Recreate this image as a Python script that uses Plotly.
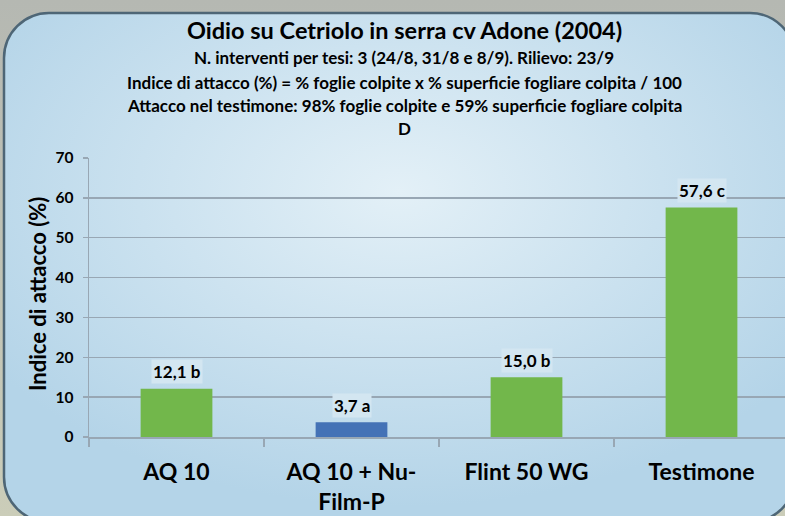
import base64
import plotly.graph_objects as go

# ---- data ----
categories = ["AQ 10", "AQ 10 + Nu-<br>Film-P", "Flint 50 WG", "Testimone"]
values = [12.1, 3.7, 15.0, 57.6]
letters = ["b", "a", "b", "c"]
bar_colors = ["#72b74b", "#4472b6", "#72b74b", "#72b74b"]
y_tick_vals = [0, 10, 20, 30, 40, 50, 60, 70]

title_text = "Oidio su Cetriolo in serra cv Adone (2004)"
subtitle_lines = [
    "N. interventi per tesi: 3 (24/8, 31/8 e 8/9). Rilievo: 23/9",
    "Indice di attacco (%) = % foglie colpite x % superficie fogliare colpita / 100",
    "Attacco nel testimone: 98% foglie colpite e 59% superficie fogliare colpita",
    "D",
]
y_title = "Indice di attacco (%)"

labels = [f"{v:.1f}".replace(".", ",") + " " + l for v, l in zip(values, letters)]

# ---- geometry (pixels) ----
W, H = 785, 516
ML, MR, MT, MB = 89, 0, 158, 79
PW, PH = W - ML - MR, H - MT - MB

def px_x(p):
    return (p - ML) / PW

def px_y(p):
    return (H - MB - p) / PH

FONT = "Lato"

# background: textured-looking outside + rounded gradient box
svg = f'''<svg xmlns="http://www.w3.org/2000/svg" width="{W}" height="{H}" viewBox="0 0 {W} {H}">
<defs>
<radialGradient id="g" cx="0.5" cy="0.35" r="0.62">
<stop offset="0" stop-color="#e3f0f7"/>
<stop offset="1" stop-color="#b4d4e8"/>
</radialGradient>
<linearGradient id="o" x1="0" y1="0" x2="0" y2="1">
<stop offset="0" stop-color="#b5b8b2"/>
<stop offset="1" stop-color="#cbcdb9"/>
</linearGradient>
</defs>
<rect width="{W}" height="{H}" fill="url(#o)"/>
<rect x="4" y="13" width="791" height="509" rx="45" ry="45" fill="url(#g)" stroke="#4e6676" stroke-width="2.5"/>
</svg>'''
src = "data:image/svg+xml;base64," + base64.b64encode(svg.encode()).decode()

fig = go.Figure()
fig.add_trace(go.Bar(
    x=categories, y=values, marker=dict(color=bar_colors, line=dict(width=0)),
    width=0.41, hoverinfo="skip",
))

annotations = []
for c, v, t in zip(categories, values, labels):
    annotations.append(dict(
        x=c, y=v, xref="x", yref="y", text=t, showarrow=False,
        yshift=17, font=dict(family=FONT, size=17, color="#000", weight=700),
        bgcolor="#d3e6f1", borderpad=1,
    ))

annotations.append(dict(
    x=px_x(404), y=px_y(30), xref="paper", yref="paper", text=title_text,
    showarrow=False, xanchor="center", yanchor="middle",
    font=dict(family=FONT, size=23.5, color="#000", weight=700),
))
for txt, yp in zip(subtitle_lines, [58, 82, 105, 128]):
    annotations.append(dict(
        x=px_x(404), y=px_y(yp), xref="paper", yref="paper", text=txt,
        showarrow=False, xanchor="center", yanchor="middle",
        font=dict(family=FONT, size=17, color="#000", weight=700),
    ))
annotations.append(dict(
    x=px_x(37), y=px_y(294), xref="paper", yref="paper", text=y_title,
    showarrow=False, xanchor="center", yanchor="middle", textangle=-90,
    font=dict(family=FONT, size=22, color="#000", weight=700),
))

grid = "#98a7b4"
fig.update_layout(
    width=W, height=H,
    margin=dict(l=ML, r=MR, t=MT, b=MB, pad=0),
    paper_bgcolor="#ffffff", plot_bgcolor="rgba(0,0,0,0)",
    showlegend=False,
    annotations=annotations,
    images=[dict(source=src, xref="paper", yref="paper",
                 x=px_x(0), y=px_y(0), sizex=W / PW, sizey=H / PH,
                 xanchor="left", yanchor="top", sizing="stretch", layer="below")],
    xaxis=dict(
        type="category", range=[-0.5, -0.5 + PW / 175.0],
        showgrid=False, showline=True, linecolor=grid, linewidth=1.5,
        ticks="outside", ticklen=8, tickcolor=grid, tickwidth=1.5,
        tickson="boundaries",
        tickfont=dict(family=FONT, size=23, color="#000", weight=700),
        ticklabelstandoff=14,
        fixedrange=True,
    ),
    yaxis=dict(
        range=[0, 70], tickvals=y_tick_vals,
        showgrid=True, gridcolor=grid, gridwidth=1.5,
        showline=True, linecolor=grid, linewidth=1.5,
        ticks="outside", ticklen=5, tickcolor=grid, tickwidth=1.5,
        zeroline=False,
        tickfont=dict(family=FONT, size=15.5, color="#000", weight=700),
        ticklabelstandoff=6,
        fixedrange=True,
    ),
)

fig.write_html(
    "out.html",
    config={"displayModeBar": False, "staticPlot": True},
    post_script="document.body.style.margin='0';document.body.style.overflow='hidden';",
)
